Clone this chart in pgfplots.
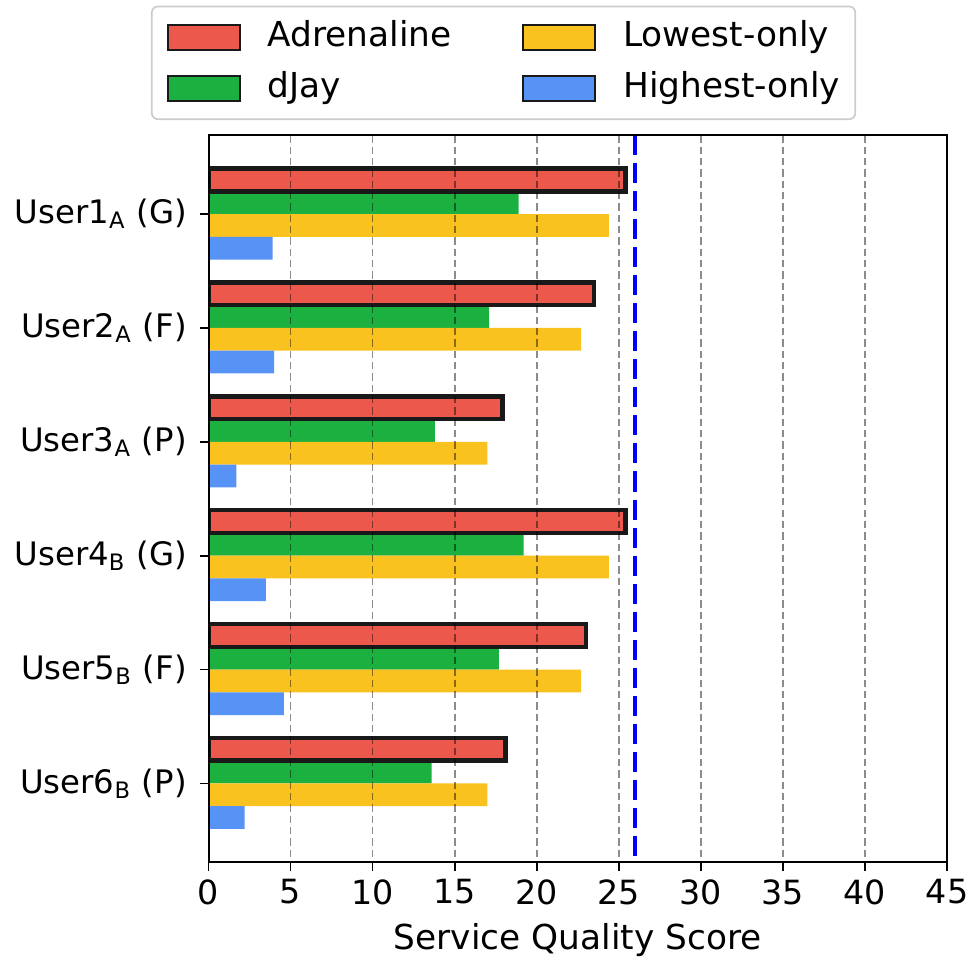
\documentclass[border=0pt]{standalone}
\usepackage{fontspec}
\setmainfont{DejaVu Sans}
\usepackage{pgfplots}
\pgfplotsset{compat=1.18}
\definecolor{cred}{HTML}{EC584C}
\definecolor{cgreen}{HTML}{1BB03F}
\definecolor{cyellow}{HTML}{FAC21F}
\definecolor{cblue}{HTML}{5792F5}
\begin{document}
\fontsize{10}{12}\selectfont
\begin{tikzpicture}
\path[use as bounding box] (-62.55pt,-32.1pt) rectangle (228.15pt,258.6pt);
\begin{axis}[
  scale only axis, width=221.55pt, height=217.95pt,
  xmin=0, xmax=45, ymin=-0.69, ymax=5.69, y dir=reverse,
  xtick={0,5,...,45}, ytick={0,1,2,3,4,5},
  xtick pos=bottom, ytick pos=left,
  yticklabels={User1\textsubscript{A} (G),User2\textsubscript{A} (F),User3\textsubscript{A} (P),User4\textsubscript{B} (G),User5\textsubscript{B} (F),User6\textsubscript{B} (P)},
  /pgf/number format/assume math mode=true,
  xticklabel style={font=\fontsize{10}{12}\selectfont, yshift=1pt},
  yticklabel style={font=\fontsize{9.7}{12}\selectfont, xshift=-0.3pt},
  xmajorgrids, grid style={black, opacity=0.45, line width=0.5pt, dash pattern=on 2.2pt off 1.2pt},
  axis on top,
  tick align=outside, major tick length=2.7pt,
  tick style={black, line width=0.5pt},
  axis line style={black, line width=0.6pt},
  xlabel={Service Quality Score},
  xlabel style={font=\fontsize{10.3}{12}\selectfont, anchor=base, at={(axis description cs:0.5,-0.1211)}},
  legend columns=2, transpose legend,
  legend cell align=left,
  legend style={at={(0.3995,1.0213)}, anchor=south, draw=black!20, rounded corners=1.8pt,
    line width=0.5pt, fill=white, inner xsep=4.5pt, inner ysep=4.3pt,
    column sep=0pt, row sep=5.4pt,
    font=\fontsize{10.3}{12}\selectfont,
    nodes={inner sep=0pt, text height=7.6pt, text depth=2.3pt}},
  /tikz/every even column/.append style={column sep=21.3pt},
  legend image code/.code={%
    \draw[#1, sharp corners, draw=black!90, line width=0.55pt] (0pt,-3.75pt) rectangle (21.6pt,3.75pt);
    \path (29.7pt,0pt);},
]
\addlegendimage{fill=cred}\addlegendentry{Adrenaline}
\addlegendimage{fill=cgreen}\addlegendentry{dJay}
\addlegendimage{fill=cyellow}\addlegendentry{Lowest-only}
\addlegendimage{fill=cblue}\addlegendentry{Highest-only}

\addplot[forget plot, xbar, bar width=0.2, bar shift=0pt, fill=cgreen, draw=none]
  coordinates {(18.9,-0.1) (17.1,0.9) (13.8,1.9) (19.2,2.9) (17.7,3.9) (13.6,4.9)};
\addplot[forget plot, xbar, bar width=0.2, bar shift=0pt, fill=cyellow, draw=none]
  coordinates {(24.4,0.1) (22.7,1.1) (17.0,2.1) (24.4,3.1) (22.7,4.1) (17.0,5.1)};
\addplot[forget plot, xbar, bar width=0.2, bar shift=0pt, fill=cblue, draw=none]
  coordinates {(3.9,0.3) (4.0,1.3) (1.7,2.3) (3.5,3.3) (4.6,4.3) (2.2,5.3)};
\addplot[forget plot, xbar, bar width=0.2, bar shift=0pt, fill=cred, draw=black!90, line width=1.35pt]
  coordinates {(25.4,-0.3) (23.5,0.7) (17.9,1.7) (25.4,2.7) (23.0,3.7) (18.1,4.7)};
\addplot[forget plot, blue, line width=1.25pt, dash pattern=on 6pt off 2.4pt]
  coordinates {(26,-0.69) (26,5.69)};
\end{axis}
\end{tikzpicture}
\end{document}
